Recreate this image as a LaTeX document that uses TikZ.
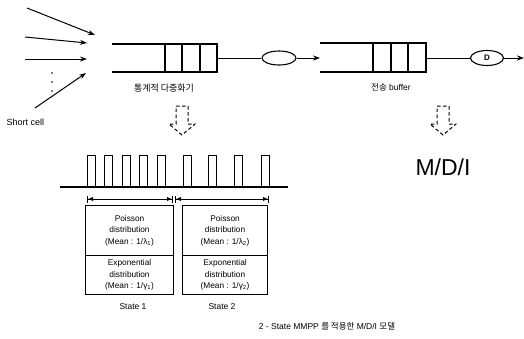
\documentclass[tikz,border=0pt]{standalone}
\usepackage{fontspec}
\setmainfont{Liberation Sans}
\newfontfamily\kr{Noto Sans CJK KR}
\usetikzlibrary{arrows.meta,shapes.geometric}
\begin{document}
\begin{tikzpicture}[x=1pt,y=-1pt, line width=1pt,
  >={Stealth[length=7pt,width=5pt]},
  lbl/.style={font=\fontsize{8.5}{9}\selectfont, inner sep=0pt},
  srv/.style={draw, ellipse, inner sep=0pt, line width=1.1pt, font=\fontsize{8}{8}\selectfont\bfseries},
  qline/.style={line width=1.3pt},
  hollow/.style={dash pattern=on 3.5pt off 2.5pt, line width=1pt},
  distbox/.style={draw, rectangle, align=center, inner sep=0pt, line width=1.1pt, font=\fontsize{8.3}{11.3}\selectfont},
  dim/.style={line width=1pt, {Bar[width=7pt]Latex[length=5pt,width=4.5pt]}-{Latex[length=5pt,width=4.5pt]Bar[width=7pt]}}]
\useasboundingbox (0,0) rectangle (524,338);
% incoming arrows
\coordinate (a1s) at (27,8);  \coordinate (a1e) at (95,35);
\coordinate (a2s) at (25,37); \coordinate (a2e) at (87,43);
\coordinate (a3s) at (25,59); \coordinate (a3e) at (87,59);
\coordinate (a4s) at (35,108); \coordinate (a4e) at (86,73);
\draw[->] (a1s) -- (a1e);
\draw[->] (a2s) -- (a2e);
\draw[->] (a3s) -- (a3e);
\draw[->] (a4s) -- (a4e);
\foreach \y in {73,82,91} \fill (52,\y) circle (0.9pt);
\node[lbl, font=\fontsize{9}{9}\selectfont, anchor=west] (sc) at (6,122) {Short cell};
% queue 1
\draw[qline] (112,44) -- (217,44) -- (217,72) -- (112,72);
\foreach \x in {165,182,200} \draw[qline] (\x,44) -- (\x,72);
\coordinate (q1out) at (217,58);
\node[srv, minimum width=34pt, minimum height=14pt] (s1) at (279,58) {};
\draw (q1out) -- (s1.west);
\coordinate (q2in) at (320,58);
\draw[->] (s1.east) -- (q2in);
\node[lbl, font=\fontsize{9}{9}\selectfont\kr] (mux) at (164,88) {통계적 다중화기};
% queue 2
\draw[qline] (320,43) -- (426,43) -- (426,72) -- (320,72);
\foreach \x in {373,391,408} \draw[qline] (\x,43) -- (\x,72);
\coordinate (q2out) at (426,58);
\node[srv, minimum width=33pt, minimum height=15pt] (s2) at (487,58) {D};
\draw (q2out) -- (s2.west);
\coordinate (outE) at (524,58);
\draw[->] (s2.east) -- (outE);
\node[lbl] (buf) at (391,87) {{\kr 전송} buffer};
% hollow dashed arrows
\foreach \cx in {182,443} {
  \draw[hollow] (\cx-6,106) -- (\cx+6,106) -- (\cx+6,124) -- (\cx+13,124) -- (\cx,135) -- (\cx-13,124) -- (\cx-6,124) -- cycle;
}
\node[font=\fontsize{23}{26}\selectfont, inner sep=0pt] (mdi) at (443,167) {M/D/I};
% pulse train
\draw[line width=1.1pt] (60,187) -- (288,187);
\foreach \x in {87,104,122,139,157,183,208,234,261}
  \draw (\x,187) -- (\x,155) -- (\x+8,155) -- (\x+8,187);
% dimension arrows
\coordinate (d1) at (87,199); \coordinate (d2) at (173,199);
\coordinate (d3) at (175,199); \coordinate (d4) at (269,199);
\draw[dim] (d1) -- (d2);
\draw[dim] (d3) -- (d4);
% boxes
\node[distbox, minimum width=88pt, minimum height=50pt, anchor=north west] (p1) at (85,205)
  {Poisson\\distribution\\(Mean : 1/λ\textsubscript{1})};
\node[distbox, minimum width=88pt, minimum height=39pt, anchor=north west] (e1) at (85,255)
  {Exponential\\distribution\\(Mean : 1/γ\textsubscript{1})};
\node[distbox, minimum width=85pt, minimum height=50pt, anchor=north west] (p2) at (182,205)
  {Poisson\\distribution\\(Mean : 1/λ\textsubscript{2})};
\node[distbox, minimum width=85pt, minimum height=39pt, anchor=north west] (e2) at (182,255)
  {Exponential\\distribution\\(Mean : 1/γ\textsubscript{2})};
\node[lbl] (st1) at (133,307) {State 1};
\node[lbl] (st2) at (222,307) {State 2};
\node[lbl] (cap) at (327,326) {2 - State MMPP {\kr 를 적용한} M/D/I {\kr 모델}};
\end{tikzpicture}
\end{document}
